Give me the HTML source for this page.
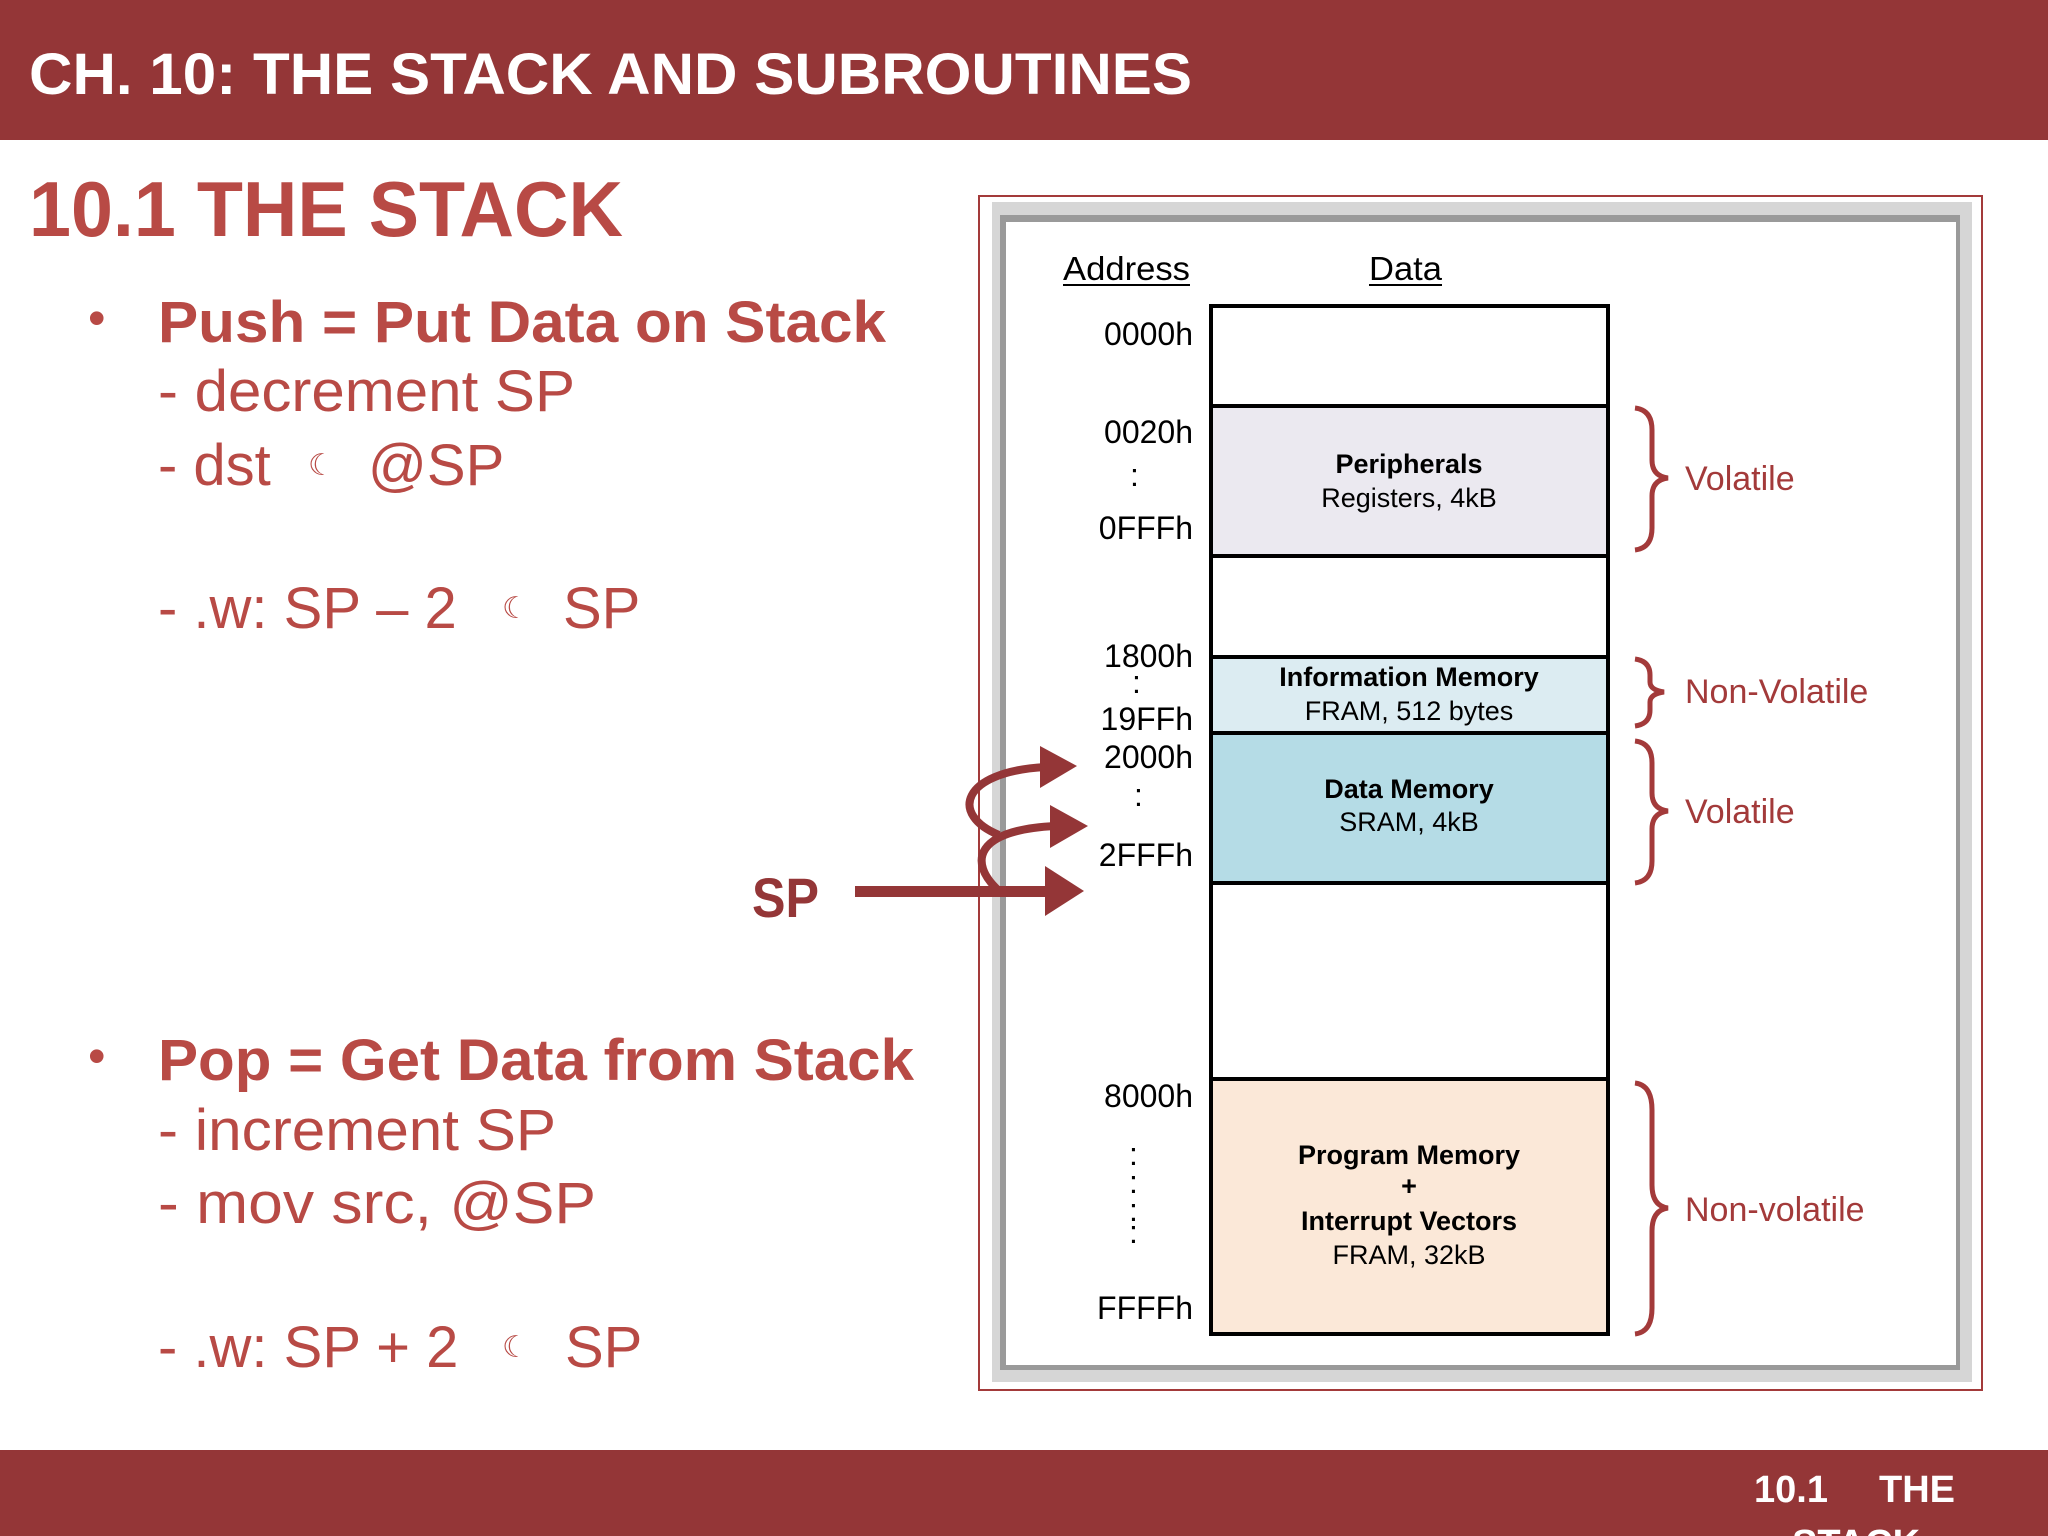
<!DOCTYPE html>
<html><head><meta charset="utf-8"><style>
html,body{margin:0;padding:0;background:#fff;}
svg{display:block;}
text{font-family:"Liberation Sans",sans-serif;}
</style></head><body>
<svg width="2048" height="1536" viewBox="0 0 2048 1536" xmlns="http://www.w3.org/2000/svg">
<rect x="0" y="0" width="2048" height="140" fill="#943637"/>
<text x="29" y="94" font-size="58" font-weight="bold" fill="#fff" textLength="1163" lengthAdjust="spacingAndGlyphs">CH. 10: THE STACK AND SUBROUTINES</text>
<rect x="0" y="1450" width="2048" height="86" fill="#943637"/>
<text x="1754" y="1502" font-size="38" font-weight="bold" fill="#fff">10.1</text>
<text x="1879" y="1502" font-size="38" font-weight="bold" fill="#fff">THE</text>
<text x="1792" y="1556" font-size="38" font-weight="bold" fill="#fff">STACK</text>

<g fill="#b84a45">
<text x="29" y="236" font-size="78" font-weight="bold" textLength="594" lengthAdjust="spacingAndGlyphs">10.1 THE STACK</text>
<text x="88" y="335" font-size="50">•</text>
<text x="158" y="342" font-size="58" font-weight="bold" textLength="728" lengthAdjust="spacingAndGlyphs">Push = Put Data on Stack</text>
<text x="158" y="411" font-size="58" textLength="417" lengthAdjust="spacingAndGlyphs">- decrement SP</text>
<text x="158" y="485" font-size="58">- dst</text>
<text x="308" y="475" font-size="30">☾</text>
<text x="368" y="485" font-size="58">@SP</text>
<text x="158" y="628" font-size="58">- .w: SP – 2</text>
<text x="502" y="618" font-size="30">☾</text>
<text x="563" y="628" font-size="58">SP</text>
<text x="88" y="1073" font-size="50">•</text>
<text x="158" y="1080" font-size="58" font-weight="bold" textLength="756" lengthAdjust="spacingAndGlyphs">Pop = Get Data from Stack</text>
<text x="158" y="1150" font-size="58" textLength="398" lengthAdjust="spacingAndGlyphs">- increment SP</text>
<text x="158" y="1223" font-size="58" textLength="438" lengthAdjust="spacingAndGlyphs">- mov  src, @SP</text>
<text x="158" y="1367" font-size="58">- .w: SP + 2</text>
<text x="502" y="1357" font-size="30">☾</text>
<text x="565" y="1367" font-size="58">SP</text>
</g>

<!-- diagram frame -->
<rect x="979" y="196" width="1003" height="1194" fill="#fff" stroke="#a33a3a" stroke-width="2"/>
<rect x="992" y="202" width="980" height="1180" fill="#d6d6d6"/>
<rect x="1000" y="215" width="960" height="1155" fill="#9a9a9a"/>
<rect x="1006" y="222" width="950" height="1143" fill="#fff"/>

<text x="1063" y="280" font-size="33" fill="#000" textLength="127" lengthAdjust="spacingAndGlyphs">Address</text>
<line x1="1063" y1="285" x2="1190" y2="285" stroke="#000" stroke-width="2"/>
<text x="1369" y="280" font-size="33" fill="#000" textLength="73" lengthAdjust="spacingAndGlyphs">Data</text>
<line x1="1369" y1="285" x2="1442" y2="285" stroke="#000" stroke-width="2"/>

<g stroke="#000" stroke-width="4">
<rect x="1211" y="306" width="397" height="100" fill="#fff"/>
<rect x="1211" y="406" width="397" height="150" fill="#ebe9f0"/>
<rect x="1211" y="556" width="397" height="101" fill="#fff"/>
<rect x="1211" y="657" width="397" height="76" fill="#dcecf2"/>
<rect x="1211" y="733" width="397" height="150" fill="#b5dce6"/>
<rect x="1211" y="883" width="397" height="196" fill="#fff"/>
<rect x="1211" y="1079" width="397" height="255" fill="#fbe8d8"/>
</g>

<g font-size="32" fill="#000" text-anchor="end">
<text x="1193" y="345">0000h</text>
<text x="1193" y="443">0020h</text>
<text x="1193" y="539">0FFFh</text>
<text x="1193" y="667">1800h</text>
<text x="1193" y="730">19FFh</text>
<text x="1193" y="768">2000h</text>
<text x="1193" y="866">2FFFh</text>
<text x="1193" y="1107">8000h</text>
<text x="1193" y="1319">FFFFh</text>
</g>
<g font-size="32" fill="#000">
<text x="1130" y="486">:</text>
<text x="1132" y="693">:</text>
<text x="1134" y="806">:</text>
<text x="1129" y="1165">:</text>
<text x="1129" y="1193">:</text>
<text x="1129" y="1221">:</text>
<text x="1129" y="1243">:</text>
</g>

<g font-size="27" fill="#000" text-anchor="middle">
<text x="1409" y="473" font-weight="bold">Peripherals</text>
<text x="1409" y="507">Registers, 4kB</text>
<text x="1409" y="686" font-weight="bold">Information Memory</text>
<text x="1409" y="720">FRAM, 512 bytes</text>
<text x="1409" y="798" font-weight="bold">Data Memory</text>
<text x="1409" y="831">SRAM, 4kB</text>
<text x="1409" y="1164" font-weight="bold">Program Memory</text>
<text x="1409" y="1195" font-weight="bold">+</text>
<text x="1409" y="1230" font-weight="bold">Interrupt Vectors</text>
<text x="1409" y="1264">FRAM, 32kB</text>
</g>

<g fill="none" stroke="#a33a3a" stroke-width="5">
<path d="M1635 408 Q1652 410 1652 430 L1652 460 Q1652 476 1668 478 Q1652 480 1652 496 L1652 528 Q1652 548 1635 550"/>
<path d="M1635 659 Q1650 661 1650 675 L1650 682 Q1650 690 1664 692 Q1650 694 1650 702 L1650 710 Q1650 724 1635 726"/>
<path d="M1635 741 Q1652 743 1652 763 L1652 793 Q1652 809 1668 811 Q1652 813 1652 829 L1652 861 Q1652 881 1635 883"/>
<path d="M1635 1083 Q1652 1085 1652 1110 L1652 1185 Q1652 1206 1668 1208 Q1652 1210 1652 1231 L1652 1308 Q1652 1332 1635 1334"/>
</g>
<g font-size="34" fill="#a33a3a">
<text x="1685" y="490">Volatile</text>
<text x="1685" y="703">Non-Volatile</text>
<text x="1685" y="823">Volatile</text>
<text x="1685" y="1221">Non-volatile</text>
</g>

<!-- SP arrows -->
<text x="752" y="917" font-size="56" font-weight="bold" fill="#943637" textLength="67" lengthAdjust="spacingAndGlyphs">SP</text>
<g fill="#943637">
<rect x="855" y="886" width="195" height="11"/>
<polygon points="1045,866 1084,891 1045,916"/>
<polygon points="1050,805 1088,826 1050,848"/>
<polygon points="1040,746 1077,766 1040,788"/>
</g>
<g fill="none" stroke="#943637" stroke-width="8">
<path d="M998 890 C 968 862, 975 830, 1055 826"/>
<path d="M999 835 C 950 815, 960 772, 1045 767"/>
</g>
</svg>
</body></html>
